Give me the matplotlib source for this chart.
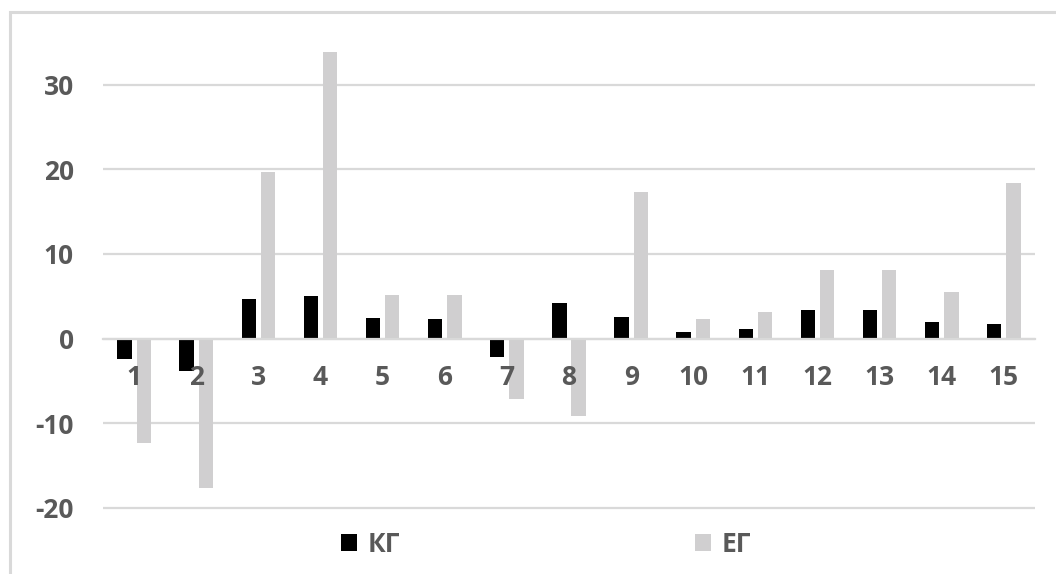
import numpy as np
import matplotlib.pyplot as plt
from matplotlib.patches import Rectangle

# Values per participant for the two groups
groups = [str(i) for i in range(1, 16)]
kg = [-2.4, -3.8, 4.7, 5.0, 2.4, 2.3, -2.2, 4.25, 2.5, 0.8, 1.1, 3.35, 3.35, 2.0, 1.7]
eg = [-12.3, -17.6, 19.7, 33.9, 5.2, 5.1, -7.1, -9.1, 17.3, 2.3, 3.2, 8.1, 8.1, 5.55, 18.35]
series_names = ['КГ', 'ЕГ']
yticks = [-20, -10, 0, 10, 20, 30]

text_color = '#595959'
grid_color = '#d9d9d9'
plt.rcParams['font.family'] = ['Open Sans', 'DejaVu Sans']
plt.rcParams['font.weight'] = 'bold'
plt.rcParams['axes.unicode_minus'] = False

fig = plt.figure(figsize=(10.56, 5.74), dpi=100)
ax = fig.add_axes([103 / 1056, 0, (1035 - 103) / 1056, 1])

x = np.arange(len(groups))
w = 0.23
ax.bar(x - 0.155, kg, w, color='black', label=series_names[0], zorder=3)
ax.bar(x + 0.155, eg, w, color='#d0cfd0', label=series_names[1], zorder=3)

ax.set_xlim(-0.5, len(groups) - 0.5)
ax.set_ylim(-27.8, 40)
ax.set_yticks(yticks)
ax.yaxis.grid(True, color=grid_color, linewidth=1.6, zorder=0)
ax.tick_params(axis='y', length=0, pad=21, labelsize=19, labelcolor=text_color)

# category labels sit just below the zero line, drawn over the bars
ax.spines['bottom'].set_position(('data', 0))
ax.spines['bottom'].set_color(grid_color)
ax.spines['bottom'].set_linewidth(1.6)
ax.spines['bottom'].set_zorder(4)
for s in ['top', 'left', 'right']:
    ax.spines[s].set_visible(False)
ax.set_xticks(x)
ax.set_xticklabels(groups)
ax.tick_params(axis='x', length=0, pad=18, labelsize=19, labelcolor=text_color)
ax.xaxis.set_zorder(5)
ax.patch.set_alpha(0)

leg = fig.legend(loc='center', bbox_to_anchor=(546 / 1056, 1 - 544 / 574), ncol=2,
                 frameon=False, fontsize=19, handlelength=0.6, handleheight=0.6,
                 handletextpad=0.4, columnspacing=11.2)
for t in leg.get_texts():
    t.set_color(text_color)

# chart border
fig.patches.append(Rectangle((9.5 / 1056, -0.1), 1.2, 1 - 11.5 / 574 + 0.1,
                             transform=fig.transFigure, fill=False,
                             edgecolor=grid_color, linewidth=2.2, zorder=0))

fig.savefig('out.png', dpi=100)
